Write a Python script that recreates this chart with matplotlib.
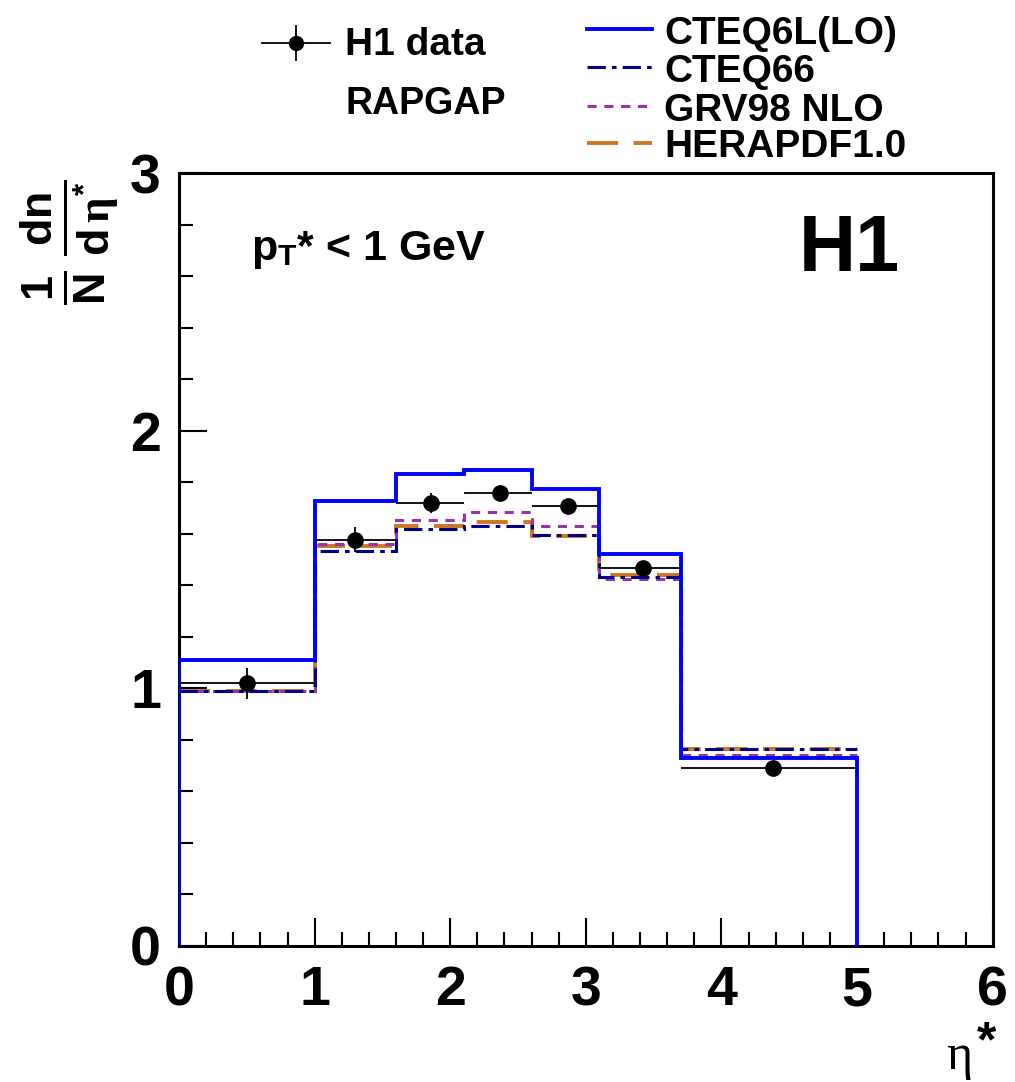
import matplotlib
matplotlib.use("Agg")
import matplotlib.pyplot as plt
from matplotlib.lines import Line2D
import numpy as np

plt.rcParams['font.family'] = ['Liberation Sans', 'DejaVu Sans']
plt.rcParams['font.weight'] = 'bold'
plt.rcParams['mathtext.fontset'] = 'custom'
plt.rcParams['mathtext.rm'] = 'Liberation Sans:bold'
plt.rcParams['mathtext.it'] = 'Liberation Serif'
plt.rcParams['mathtext.bf'] = 'Liberation Sans:bold'

# --- data ---
edges = [0.0, 1.0, 1.6, 2.1, 2.6, 3.1, 3.7, 5.0]
data_x = [0.50, 1.30, 1.86, 2.365, 2.87, 3.42, 4.38]
data_y = [1.02, 1.577, 1.719, 1.758, 1.706, 1.467, 0.69]
data_err = [0.06, 0.048, 0.04, 0.03, 0.02, 0.02, 0.015]

cteq6l = [1.11, 1.728, 1.833, 1.849, 1.774, 1.522, 0.731]
cteq66 = [0.99, 1.534, 1.619, 1.631, 1.596, 1.434, 0.764]
grv98 = [0.99, 1.560, 1.654, 1.683, 1.631, 1.424, 0.742]
herapdf = [0.99, 1.553, 1.631, 1.647, 1.593, 1.440, 0.764]

model_names = ['CTEQ6L(LO)', 'CTEQ66', 'GRV98 NLO', 'HERAPDF1.0']
model_colors = ['#0000ff', '#00008b', '#9933aa', '#cc7722']
model_styles = ['-', (0, (6, 2, 1.5, 2)), (0, (3, 2.5)), (0, (8, 4))]
model_lw = [2.8, 2.2, 2.2, 2.8]

fig = plt.figure(figsize=(10.15, 10.82), dpi=100)
ax = fig.add_axes([0.1764, 0.1257, 0.8016, 0.7143])

# models as step histograms
models = [cteq6l, cteq66, grv98, herapdf]
for vals, c, ls, lw in zip(models[::-1], model_colors[::-1], model_styles[::-1], model_lw[::-1]):
    base = 0 if vals is cteq6l else None
    ax.stairs(vals, edges, baseline=base, color=c, linestyle=ls, linewidth=lw, zorder=3)

# data points with bin-wide horizontal bars
xerr_lo = [x - edges[i] for i, x in enumerate(data_x)]
xerr_hi = [edges[i + 1] - x for i, x in enumerate(data_x)]
ax.errorbar(data_x, data_y, xerr=[xerr_lo, xerr_hi], yerr=data_err, fmt='o', color='black',
            markersize=11, elinewidth=1.3, capsize=0, zorder=4)

ax.set_xlim(0, 6)
ax.set_ylim(0, 3)
ax.set_xticks(np.arange(0, 7, 1))
ax.set_yticks([0, 1, 2, 3])
ax.set_xticks(np.arange(0, 6.01, 0.2), minor=True)
ax.set_yticks(np.arange(0, 3.01, 0.2), minor=True)
ax.tick_params(which='both', direction='in', top=False, right=False, width=1.5)
ax.tick_params(which='major', length=20, labelsize=40)
ax.tick_params(axis='x', which='major', pad=14)
ax.tick_params(axis='y', which='major', pad=13)
ax.tick_params(which='minor', length=10)
for s in ax.spines.values():
    s.set_linewidth(2.2)
for lab in ax.get_xticklabels() + ax.get_yticklabels():
    lab.set_fontweight('bold')

# axis labels
fig.text(0.069, 0.776, r'$\frac{\mathrm{1}}{\mathrm{N}}\,\frac{\mathrm{dn}}{\mathrm{d}\,\eta^{\mathrm{*}}}$',
         rotation=90, fontsize=46, ha='center', va='center')
fig.text(0.945, 1 - 1069 / 1082, 'η', fontsize=36, fontweight='normal', family='Liberation Serif',
         ha='center', va='baseline')
fig.text(0.972, 1 - 1043 / 1082, '*', fontsize=36, fontweight='bold', ha='center', va='center')

ax.text(0.088, 0.900, r'$\mathrm{p}_{\mathrm{T}}$* < 1 GeV', transform=ax.transAxes, fontsize=31,
        fontweight='bold', va='center')
ax.text(0.886, 0.900, 'H1', transform=ax.transAxes, fontsize=57, fontweight='bold',
        ha='right', va='center')

# legend drawn in figure coordinates
def fx(px):
    return px / 1015.0

def fy(py):
    return 1 - py / 1082.0

fig.add_artist(Line2D([fx(262), fx(330)], [fy(43), fy(43)], color='black', lw=1.3,
                      transform=fig.transFigure))
fig.add_artist(Line2D([fx(296), fx(296)], [fy(26), fy(60)], color='black', lw=1.3,
                      transform=fig.transFigure))
fig.add_artist(Line2D([fx(296)], [fy(43)], color='black', marker='o', markersize=10,
                      transform=fig.transFigure))
fig.text(fx(345), fy(55), 'H1 data', fontsize=28, fontweight='bold', va='baseline')
fig.text(fx(345), fy(114), 'RAPGAP', fontsize=27, fontweight='bold', va='baseline')

line_rows = [29, 67, 106, 143]
text_base = [44, 82, 121, 157]
for name, c, ls, lw, r, b in zip(model_names, model_colors, model_styles, model_lw, line_rows, text_base):
    fig.add_artist(Line2D([fx(587), fx(652)], [fy(r), fy(r)], color=c, linestyle=ls,
                          lw=lw, transform=fig.transFigure))
    fig.text(fx(664), fy(b), name, fontsize=28, fontweight='bold', va='baseline')

fig.savefig('out.png', dpi=100)
